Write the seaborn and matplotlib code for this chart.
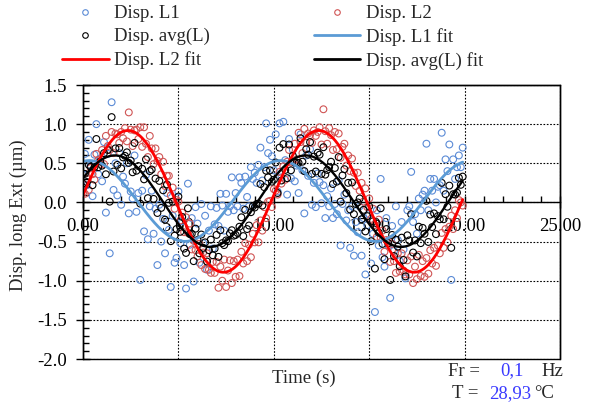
import numpy as np
import pandas as pd
import matplotlib
matplotlib.use("Agg")
import matplotlib.pyplot as plt
import seaborn as sns
from matplotlib.lines import Line2D
from matplotlib.patches import Rectangle
from matplotlib.ticker import MultipleLocator, FormatStrFormatter

# ---------------- data ----------------
t_start = 0.0
t_step = 0.1
freq_hz = 0.1
temperature = "28,93"
freq_label = "0,1"

disp_L1 = [
    0.36, 0.62, 0.22, 0.80, 0.47, 0.08, 0.61, 1.00, 0.36, 0.56,
    0.27, 0.77, -0.13, 0.62, -0.65, 1.28, 0.16, 0.50, 0.09, 0.63,
    -0.03, 0.33, 0.24, 0.50, -0.14, 0.14, 0.05, 0.60, -0.12, 0.12,
    -0.99, 0.15, -0.37, 0.35, -0.47, -0.05, 0.15, -0.40, -0.08, -0.80,
    -0.03, -0.50, -0.21, -0.65, 0.12, -0.35, -1.08, -0.17, -0.77, -0.71,
    0.14, -0.52, -0.24, -0.80, -1.10, 0.24, -0.54, -0.20, -1.01, -0.06,
    -0.27, -0.77, -0.02, -0.52, -0.17, -0.86, -0.36, -0.05, -0.59, -0.28,
    -0.07, -0.30, 0.11, -0.04, -0.36, 0.11, -0.12, -0.05, 0.32, -0.10,
    0.12, -0.05, 0.32, 0.25, -0.08, 0.33, 0.07, -0.05, 0.45, 0.30,
    0.38, 0.25, 0.48, 0.70, 0.28, 0.45, 1.01, 0.63, 0.80, 0.59,
    0.41, 0.87, 0.14, 1.01, 0.32, 1.03, 0.54, 0.10, 0.81, 0.31,
    0.67, 0.27, 0.47, 0.12, 0.87, 0.41, -0.14, 0.60, 0.34, 0.68,
    -0.03, 0.25, -0.06, 0.37, 0.26, -0.01, 0.22, -0.20, 0.08, -0.05,
    0.18, -0.20, -0.02, -0.15, 0.28, -0.55, -0.02, 0.10, -0.23, -0.10,
    -0.58, -0.05, -0.68, -0.25, -0.38, -0.05, -0.68, -0.20, -0.92, -0.29,
    -0.15, -0.78, -0.40, -1.40, -0.10, -0.55, 0.30, -0.70, -0.82, -0.20,
    -0.55, -1.22, -0.30, -0.62, -0.05, -0.48, -0.75, -0.25, -0.60, -0.97,
    -0.10, -0.05, 0.39, -0.25, -0.15, -0.40, 0.05, -0.10, 0.10, 0.15,
    0.75, -0.10, 0.30, 0.15, 0.30, 0.00, 0.20, 0.22, 0.89, 0.15,
    0.55, 0.40, 0.74, -0.99, 0.55, 0.30, 0.45, 0.60, 0.45, 0.70,
]

disp_L2 = [
    0.12, 0.11, 0.30, 0.16, 0.44, 0.36, 0.29, 0.62, 0.54, 0.49,
    0.67, 0.49, 0.85, 0.72, 0.67, 0.90, 0.63, 0.88, 0.87, 0.76,
    0.90, 0.82, 0.95, 0.78, 1.15, 0.93, 0.72, 0.92, 0.93, 0.81,
    0.96, 0.71, 0.96, 0.75, 0.58, 0.85, 0.69, 0.49, 0.69, 0.53,
    0.58, 0.36, 0.52, 0.21, 0.34, 0.34, 0.09, 0.19, -0.08, 0.03,
    0.01, -0.23, -0.13, -0.38, -0.19, -0.39, -0.27, -0.60, -0.49, -0.61,
    -0.69, -0.53, -0.80, -0.64, -0.85, -0.65, -0.86, -0.90, -0.76, -0.90,
    -0.76, -1.09, -0.82, -1.00, -0.73, -1.08, -0.87, -0.74, -1.03, -0.75,
    -0.95, -0.73, -0.94, -0.63, -0.78, -0.52, -0.75, -0.54, -0.70, -0.40,
    -0.51, -0.29, -0.51, -0.23, -0.36, -0.06, -0.20, 0.01, 0.02, -0.06,
    0.17, 0.15, 0.10, 0.39, 0.24, 0.46, 0.29, 0.52, 0.67, 0.51,
    0.52, 0.75, 0.55, 0.89, 0.77, 0.63, 0.94, 0.76, 0.88, 0.86,
    0.76, 0.92, 0.85, 0.90, 0.96, 0.74, 1.19, 0.91, 0.75, 0.95,
    0.86, 0.67, 0.90, 0.68, 0.88, 0.57, 0.71, 0.75, 0.47, 0.60,
    0.40, 0.56, 0.38, 0.21, 0.38, 0.15, 0.25, 0.01, 0.18, -0.06,
    0.05, -0.21, -0.08, -0.29, -0.44, -0.22, -0.45, -0.36, -0.63, -0.48,
    -0.49, -0.76, -0.53, -0.75, -0.90, -0.65, -0.88, -0.65, -0.87, -0.92,
    -0.74, -0.92, -0.69, -1.03, -0.82, -0.98, -0.67, -0.94, -0.75, -0.95,
    -0.71, -0.91, -0.61, -0.78, -0.58, -0.81, -0.55, -0.65, -0.39, -0.58,
    -0.34, -0.51, -0.31, -0.17, -0.34, -0.10, -0.20, 0.03, 0.00, -0.04,
]

x_ticks = [0, 5, 10, 15, 20, 25]
y_ticks = [-2.0, -1.5, -1.0, -0.5, 0.0, 0.5, 1.0, 1.5]

# ---------------- derived ----------------
l1 = np.array(disp_L1)
l2 = np.array(disp_L2)
time = t_start + t_step * np.arange(len(l1))
avg = (l1 + l2) / 2.0

df = pd.DataFrame({"t": time, "L1": l1, "L2": l2, "avg": avg})


def sine_fit(t, y, f):
    w = 2 * np.pi * f
    A = np.column_stack([np.sin(w * t), np.cos(w * t), np.ones_like(t)])
    coef = np.linalg.lstsq(A, y, rcond=None)[0]
    tt = np.linspace(t.min(), t.max(), 400)
    return tt, coef[0] * np.sin(w * tt) + coef[1] * np.cos(w * tt) + coef[2]


# ---------------- style ----------------
sns.set_theme(style="white")
plt.rcParams["font.family"] = ["Liberation Serif", "DejaVu Serif"]
plt.rcParams["axes.unicode_minus"] = False
FS = 13.5

c_l1_pts = "#5b8bd6"
c_l2_pts = "#d05555"
c_avg_pts = "#000000"
c_l1_fit = "#5b9bd5"
c_l2_fit = "#ff0000"
c_avg_fit = "#000000"
c_blue_txt = "#3a3aff"

fig = plt.figure(figsize=(5.94, 4.09), dpi=100)
ax = fig.add_axes([83 / 594, 50 / 409, 477 / 594, 274 / 409])

mk = dict(marker="o", s=24, facecolor="none", linewidth=0.8)
sns.scatterplot(data=df, x="t", y="L1", ax=ax, color=c_l1_pts, edgecolor=c_l1_pts, zorder=3, **mk)
sns.scatterplot(data=df, x="t", y="L2", ax=ax, color=c_l2_pts, edgecolor=c_l2_pts, zorder=3, **mk)
sns.scatterplot(data=df, x="t", y="avg", ax=ax, color=c_avg_pts, edgecolor=c_avg_pts, zorder=4, **mk)

for col, c, lw in [("L1", c_l1_fit, 2.0), ("L2", c_l2_fit, 2.0), ("avg", c_avg_fit, 1.7)]:
    tt, yy = sine_fit(df["t"].values, df[col].values, freq_hz)
    sns.lineplot(x=tt, y=yy, ax=ax, color=c, linewidth=lw, sort=False,
                 estimator=None, zorder=5)

ax.set_xlim(x_ticks[0], x_ticks[-1])
ax.set_ylim(y_ticks[0], y_ticks[-1])
ax.set_xticks(x_ticks)
ax.set_yticks(y_ticks)
ax.xaxis.set_minor_locator(MultipleLocator(1))
ax.yaxis.set_minor_locator(MultipleLocator(0.1))
ax.xaxis.set_major_formatter(FormatStrFormatter("%.2f"))
ax.yaxis.set_major_formatter(FormatStrFormatter("%.1f"))
ax.set_xlabel("")
ax.set_ylabel("")

ax.grid(True, which="major", color="black", linestyle=(0, (1.5, 1.5)), linewidth=0.8)
ax.set_axisbelow(True)

ax.spines["bottom"].set_position(("data", 0))
for s in ["left", "right", "top", "bottom"]:
    ax.spines[s].set_color("black")
    ax.spines[s].set_linewidth(1.0)
ax.add_patch(Rectangle((0, 0), 1, 1, transform=ax.transAxes, fill=False,
                       edgecolor="black", linewidth=1.0, clip_on=False, zorder=6))

ax.tick_params(axis="both", which="both", colors="black", labelsize=FS,
               bottom=True, left=True, top=False, right=False)
ax.tick_params(axis="y", which="major", direction="inout", length=10, width=1, pad=6.5)
ax.tick_params(axis="y", which="minor", direction="in", length=4, width=1)
ax.tick_params(axis="x", which="major", direction="inout", length=8, width=1, pad=7)
ax.tick_params(axis="x", which="minor", direction="in", length=4, width=1)
for lab in ax.get_xticklabels() + ax.get_yticklabels():
    lab.set_fontsize(FS)

fig.text(304 / 594, 1 - 378 / 409, "Time (s)", ha="center", va="center", fontsize=FS)
fig.text(18 / 594, 1 - 215 / 409, "Disp. long Ext (µm)", ha="center", va="center",
         rotation=90, fontsize=FS)

handles = [
    Line2D([], [], ls="none", marker="o", mfc="none", mec=c_l1_pts, ms=4, mew=0.8),
    Line2D([], [], ls="none", marker="o", mfc="none", mec=c_avg_pts, ms=4, mew=0.8),
    Line2D([], [], color=c_l2_fit, lw=2),
    Line2D([], [], ls="none", marker="o", mfc="none", mec=c_l2_pts, ms=4, mew=0.8),
    Line2D([], [], color=c_l1_fit, lw=2),
    Line2D([], [], color=c_avg_fit, lw=2),
]
labels = ["Disp. L1", "Disp. avg(L)", "Disp. L2 fit",
          "Disp. L2", "Disp. L1 fit", "Disp. avg(L) fit"]
fig.legend(handles, labels, ncol=2, loc="upper left",
           bbox_to_anchor=(62 / 594, 1 - 5 / 409), frameon=False,
           handlelength=2.5, handletextpad=0.3, columnspacing=5.5,
           labelspacing=0.32, borderpad=0, borderaxespad=0, fontsize=FS,
           numpoints=1)

fig.text(448 / 594, 1 - 371 / 409, "Fr =", ha="left", va="center", fontsize=FS)
fig.text(500 / 594, 1 - 371 / 409, freq_label, ha="left", va="center", fontsize=FS, color=c_blue_txt)
fig.text(541 / 594, 1 - 371 / 409, "Hz", ha="left", va="center", fontsize=FS)
fig.text(452 / 594, 1 - 394 / 409, "T =", ha="left", va="center", fontsize=FS)
fig.text(489 / 594, 1 - 394 / 409, temperature, ha="left", va="center", fontsize=FS, color=c_blue_txt)
fig.text(534 / 594, 1 - 394 / 409, "°C", ha="left", va="center", fontsize=FS)

fig.savefig("out.png", dpi=100)
